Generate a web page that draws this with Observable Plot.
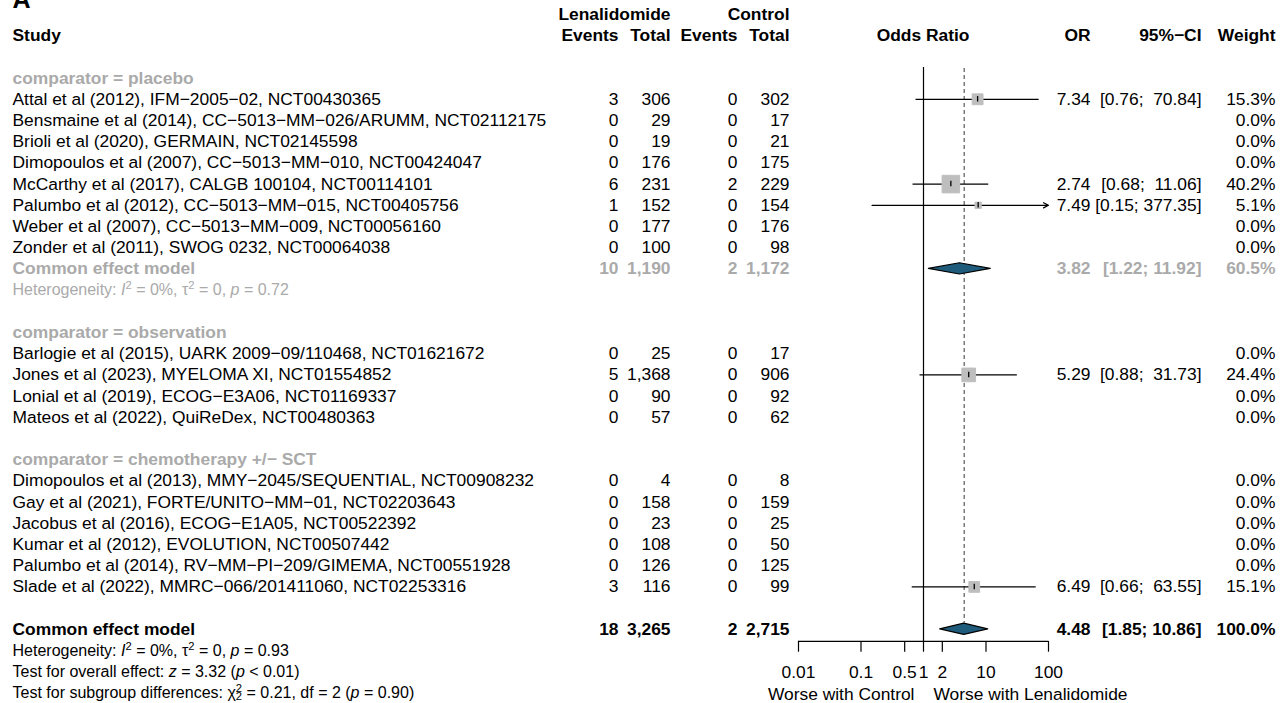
<!DOCTYPE html>
<html><head><meta charset="utf-8">
<script src="https://cdn.jsdelivr.net/npm/d3@7"></script>
<script src="https://cdn.jsdelivr.net/npm/@observablehq/plot@0.6"></script>
<style>
html,body{margin:0;padding:0;background:#fff;}
#chart{width:1286px;height:703px;overflow:hidden;}
svg{display:block;}
</style></head><body><div id="chart"></div>
<script>
// ---------- DATA ----------
const groupLabels = ["comparator = placebo", "comparator = observation", "comparator = chemotherapy +/\u2212 SCT"];
const studyNames = [
  "Attal et al (2012), IFM\u22122005\u221202, NCT00430365",
  "Bensmaine et al (2014), CC\u22125013\u2212MM\u2212026/ARUMM, NCT02112175",
  "Brioli et al (2020), GERMAIN, NCT02145598",
  "Dimopoulos et al (2007), CC\u22125013\u2212MM\u2212010, NCT00424047",
  "McCarthy et al (2017), CALGB 100104, NCT00114101",
  "Palumbo et al (2012), CC\u22125013\u2212MM\u2212015, NCT00405756",
  "Weber et al (2007), CC\u22125013\u2212MM\u2212009, NCT00056160",
  "Zonder et al (2011), SWOG 0232, NCT00064038",
  "Barlogie et al (2015), UARK 2009\u221209/110468, NCT01621672",
  "Jones et al (2023), MYELOMA XI, NCT01554852",
  "Lonial et al (2019), ECOG\u2212E3A06, NCT01169337",
  "Mateos et al (2022), QuiReDex, NCT00480363",
  "Dimopoulos et al (2013), MMY\u22122045/SEQUENTIAL, NCT00908232",
  "Gay et al (2021), FORTE/UNITO\u2212MM\u221201, NCT02203643",
  "Jacobus et al (2016), ECOG\u2212E1A05, NCT00522392",
  "Kumar et al (2012), EVOLUTION, NCT00507442",
  "Palumbo et al (2014), RV\u2212MM\u2212PI\u2212209/GIMEMA, NCT00551928",
  "Slade et al (2022), MMRC\u2212066/201411060, NCT02253316"
];
const studyGroup = [0,0,0,0,0,0,0,0, 1,1,1,1, 2,2,2,2,2,2];
const lenEvents  = [3,0,0,0,6,1,0,0, 0,5,0,0, 0,0,0,0,0,3];
const lenTotal   = [306,29,19,176,231,152,177,100, 25,1368,90,57, 4,158,23,108,126,116];
const ctlEvents  = [0,0,0,0,2,0,0,0, 0,0,0,0, 0,0,0,0,0,0];
const ctlTotal   = [302,17,21,175,229,154,176,98, 17,906,92,62, 8,159,25,50,125,99];
const oddsRatio  = [7.34,null,null,null,2.74,7.49,null,null, null,5.29,null,null, null,null,null,null,null,6.49];
const ciLower    = [0.76,null,null,null,0.68,0.15,null,null, null,0.88,null,null, null,null,null,null,null,0.66];
const ciUpper    = [70.84,null,null,null,11.06,377.35,null,null, null,31.73,null,null, null,null,null,null,null,63.55];
const weights    = [15.3,0,0,0,40.2,5.1,0,0, 0,24.4,0,0, 0,0,0,0,0,15.1];

// subgroup / overall summaries
const summaryGroup   = [0];
const summaryLenEv   = [10];
const summaryLenTot  = [1190];
const summaryCtlEv   = [2];
const summaryCtlTot  = [1172];
const summaryOR      = [3.82];
const summaryLower   = [1.22];
const summaryUpper   = [11.92];
const summaryWeight  = [60.5];
const summaryHet     = ["Heterogeneity: I\u00b2 = 0%, \u03c4\u00b2 = 0, p = 0.72"];

const overallLabel = "Common effect model";
const overallCounts = [18, 3265, 2, 2715];
const overallOR = 4.48, overallLower = 1.85, overallUpper = 10.86, overallWeight = 100.0;
const overallStats = [
  "Heterogeneity: I\u00b2 = 0%, \u03c4\u00b2 = 0, p = 0.93",
  "Test for overall effect: z = 3.32 (p < 0.01)",
  "Test for subgroup differences: \u03c7\u00b2\u2082 = 0.21, df = 2 (p = 0.90)"
];
const xTicks = [0.01, 0.1, 0.5, 1, 2, 10, 100];
const leftLabel = "Worse with Control", rightLabel = "Worse with Lenalidomide";

// ---------- LAYOUT ----------
const W = 1286, H = 703;
const FONT = "'Liberation Sans', Arial, Helvetica, sans-serif";
const FS = 17.4, FS_SMALL = 16;
const GRAY = "#aaaaaa";
const COL = {study:[12,"start"], le:[618,"end"], lt:[670,"end"], ce:[737,"end"], ct:[789,"end"],
             plot:[922.5,"middle"], or:[1090,"end"], ci:[1201,"end"], w:[1275,"end"]};
const fmtN = d3.format(",");

let row = 3;
const studyRow = [], groupRow = [], sumRow = [], hetRow = [];
groupLabels.forEach((g, gi) => {
  groupRow[gi] = row++;
  studyNames.forEach((s, i) => { if (studyGroup[i] === gi) studyRow[i] = row++; });
  const si = summaryGroup.indexOf(gi);
  if (si >= 0) { sumRow[si] = row++; hetRow[si] = row++; }
  row++;
});
const overallRow = row++;
const statRows = overallStats.map(() => row++);

function ciText(lo, hi, maxLen) {
  const h = hi.toFixed(2);
  return "[" + lo.toFixed(2) + ";" + "\u00a0".repeat(1 + maxLen - h.length) + h + "]";
}
const studyMaxLen = d3.max(ciUpper.filter(d => d != null), d => d.toFixed(2).length);
const sumMaxLen = d3.max([...summaryUpper, overallUpper], d => d.toFixed(2).length);

const items = [];
function add(r, col, text, o = {}) {
  items.push({row: r, col, text, bold: !!o.bold, color: o.color || "black", size: o.size || FS});
}
add(0, "lt", "Lenalidomide", {bold: true});
add(0, "ct", "Control", {bold: true});
[["study","Study"],["le","Events"],["lt","Total"],["ce","Events"],["ct","Total"],
 ["plot","Odds Ratio"],["or","OR"],["ci","95%\u2212CI"],["w","Weight"]].forEach(([c,t]) => add(1, c, t, {bold: true}));
groupLabels.forEach((g, gi) => add(groupRow[gi], "study", g, {bold: true, color: GRAY}));
studyNames.forEach((s, i) => {
  const r = studyRow[i];
  add(r, "study", s);
  add(r, "le", fmtN(lenEvents[i])); add(r, "lt", fmtN(lenTotal[i]));
  add(r, "ce", fmtN(ctlEvents[i])); add(r, "ct", fmtN(ctlTotal[i]));
  if (oddsRatio[i] != null) {
    add(r, "or", oddsRatio[i].toFixed(2));
    add(r, "ci", ciText(ciLower[i], ciUpper[i], studyMaxLen));
  }
  add(r, "w", weights[i].toFixed(1) + "%");
});
summaryGroup.forEach((g, si) => {
  const r = sumRow[si], o = {bold: true, color: GRAY};
  add(r, "study", overallLabel, o);
  add(r, "le", fmtN(summaryLenEv[si]), o); add(r, "lt", fmtN(summaryLenTot[si]), o);
  add(r, "ce", fmtN(summaryCtlEv[si]), o); add(r, "ct", fmtN(summaryCtlTot[si]), o);
  add(r, "or", summaryOR[si].toFixed(2), o);
  add(r, "ci", ciText(summaryLower[si], summaryUpper[si], sumMaxLen), o);
  add(r, "w", summaryWeight[si].toFixed(1) + "%", o);
  add(hetRow[si], "study", summaryHet[si], {color: GRAY, size: FS_SMALL});
});
{
  const o = {bold: true};
  add(overallRow, "study", overallLabel, o);
  ["le","lt","ce","ct"].forEach((c, k) => add(overallRow, c, fmtN(overallCounts[k]), o));
  add(overallRow, "or", overallOR.toFixed(2), o);
  add(overallRow, "ci", ciText(overallLower, overallUpper, sumMaxLen), o);
  add(overallRow, "w", overallWeight.toFixed(1) + "%", o);
  overallStats.forEach((t, k) => add(statRows[k], "study", t, {size: FS_SMALL}));
}

const textMarks = d3.groups(items, d => [d.col, d.bold, d.color, d.size].join("|")).map(([k, arr]) => {
  const [dx, anchor] = COL[arr[0].col];
  return Plot.text(arr, {y: "row", text: "text", frameAnchor: "left", dx, textAnchor: anchor,
    lineAnchor: "middle", fontWeight: arr[0].bold ? "bold" : "normal", fill: arr[0].color, fontSize: arr[0].size});
});

const est = studyNames.map((s, i) => ({row: studyRow[i], or: oddsRatio[i], lo: ciLower[i], hi: ciUpper[i], w: weights[i]}))
  .filter(d => d.or != null);
const xMin = d3.min(xTicks), xMax = d3.max(xTicks);
const inside = est.filter(d => d.hi <= xMax && d.lo >= xMin);
const beyond = est.filter(d => d.hi > xMax);
const DH = 0.265;
const summaries = summaryGroup.map((g, si) => ({row: sumRow[si], or: summaryOR[si], lo: summaryLower[si], hi: summaryUpper[si]}))
  .concat([{row: overallRow, or: overallOR, lo: overallLower, hi: overallUpper}]);
const diamondPts = summaries.flatMap((d, k) => [
  {k, x: d.lo, y1: d.row, y2: d.row}, {k, x: d.or, y1: d.row - DH, y2: d.row + DH}, {k, x: d.hi, y1: d.row, y2: d.row}]);

const axisRow = overallRow + 0.57;
const tickEnd = overallRow + 1.08;
const lw = 1.2;

const chart = Plot.plot({
  width: W, height: H, margin: 0,
  x: {type: "log", domain: [xMin, xMax], range: [798, 1048], axis: null},
  y: {domain: [0, statRows[statRows.length - 1]], range: [14, 692.4], axis: null},
  r: {type: "sqrt", domain: [0, d3.max(weights)], range: [0, 9.9]},
  style: {fontFamily: FONT, background: "white", color: "black"},
  marks: [
    Plot.ruleX([1], {x: d => d, y1: 2.5, y2: axisRow, stroke: "black", strokeWidth: lw}),
    Plot.ruleX([overallOR], {x: d => d, y1: 2.55, y2: overallRow - DH - 0.03, stroke: "#666", strokeWidth: 1.3, strokeDasharray: "4,3"}),
    Plot.ruleY(inside, {y: "row", x1: "lo", x2: "hi", stroke: "black", strokeWidth: lw}),
    Plot.arrow(beyond, {x1: "lo", x2: () => xMax, y1: "row", y2: "row", stroke: "black", strokeWidth: lw, headLength: 7, headAngle: 55}),
    Plot.dot(est, {x: "or", y: "row", r: "w", symbol: "square", fill: "#bebebe", stroke: "#bebebe", strokeWidth: 1}),
    Plot.ruleX(est, {x: "or", y1: d => d.row - 0.13, y2: d => d.row + 0.13, stroke: "black", strokeWidth: 1.3}),
    Plot.areaY(diamondPts, {x: "x", y1: "y1", y2: "y2", z: "k", fill: "#1f5b7b", stroke: "black", strokeWidth: lw}),
    Plot.ruleY([axisRow], {y: d => d, x1: xMin, x2: xMax, stroke: "black", strokeWidth: lw}),
    Plot.ruleX(xTicks, {x: d => d, y1: axisRow, y2: tickEnd, stroke: "black", strokeWidth: lw}),
    Plot.text(xTicks, {x: d => d, y: overallRow + 2.05, text: d => String(d), fontSize: FS, fill: "black", textAnchor: "middle"}),
    Plot.text([leftLabel], {x: () => 1, y: overallRow + 3.05, text: d => d, dx: -9, textAnchor: "end", fontSize: FS, fill: "black"}),
    Plot.text([rightLabel], {x: () => 1, y: overallRow + 3.05, text: d => d, dx: 10, textAnchor: "start", fontSize: FS, fill: "black"}),
    Plot.text(["A"], {frameAnchor: "top-left", text: d => d, dx: 12, dy: -0.7, textAnchor: "start", lineAnchor: "middle", fontSize: 25, fontWeight: "bold", fill: "black"}),
    ...textMarks
  ]
});
document.getElementById("chart").appendChild(chart);

// rich text: italics, superscripts and subscripts
const SUP = '<tspan baseline-shift="super" font-size="70%">2</tspan>';
const SUBBACK = '<tspan baseline-shift="-0.22em" font-size="70%" dx="-0.556em">2</tspan>';
function richify(s) {
  let h = s.replace(/&/g, "&amp;").replace(/</g, "&lt;");
  h = h.replace(/I\u00b2/g, '<tspan font-style="italic">I</tspan>' + SUP);
  h = h.replace(/\u03c4\u00b2/g, '\u03c4' + SUP);
  h = h.replace(/\u03c7\u00b2\u2082/g, '\u03c7' + SUP + SUBBACK);
  h = h.replace(/([ (])p( =| &lt;)/g, '$1<tspan font-style="italic">p</tspan>$2');
  h = h.replace(/: z =/g, ': <tspan font-style="italic">z</tspan> =');
  return h;
}
d3.select(chart).selectAll("text").each(function() {
  const t = this.textContent;
  if (/^(Heterogeneity|Test for)/.test(t)) this.innerHTML = richify(t);
});
</script></body></html>
